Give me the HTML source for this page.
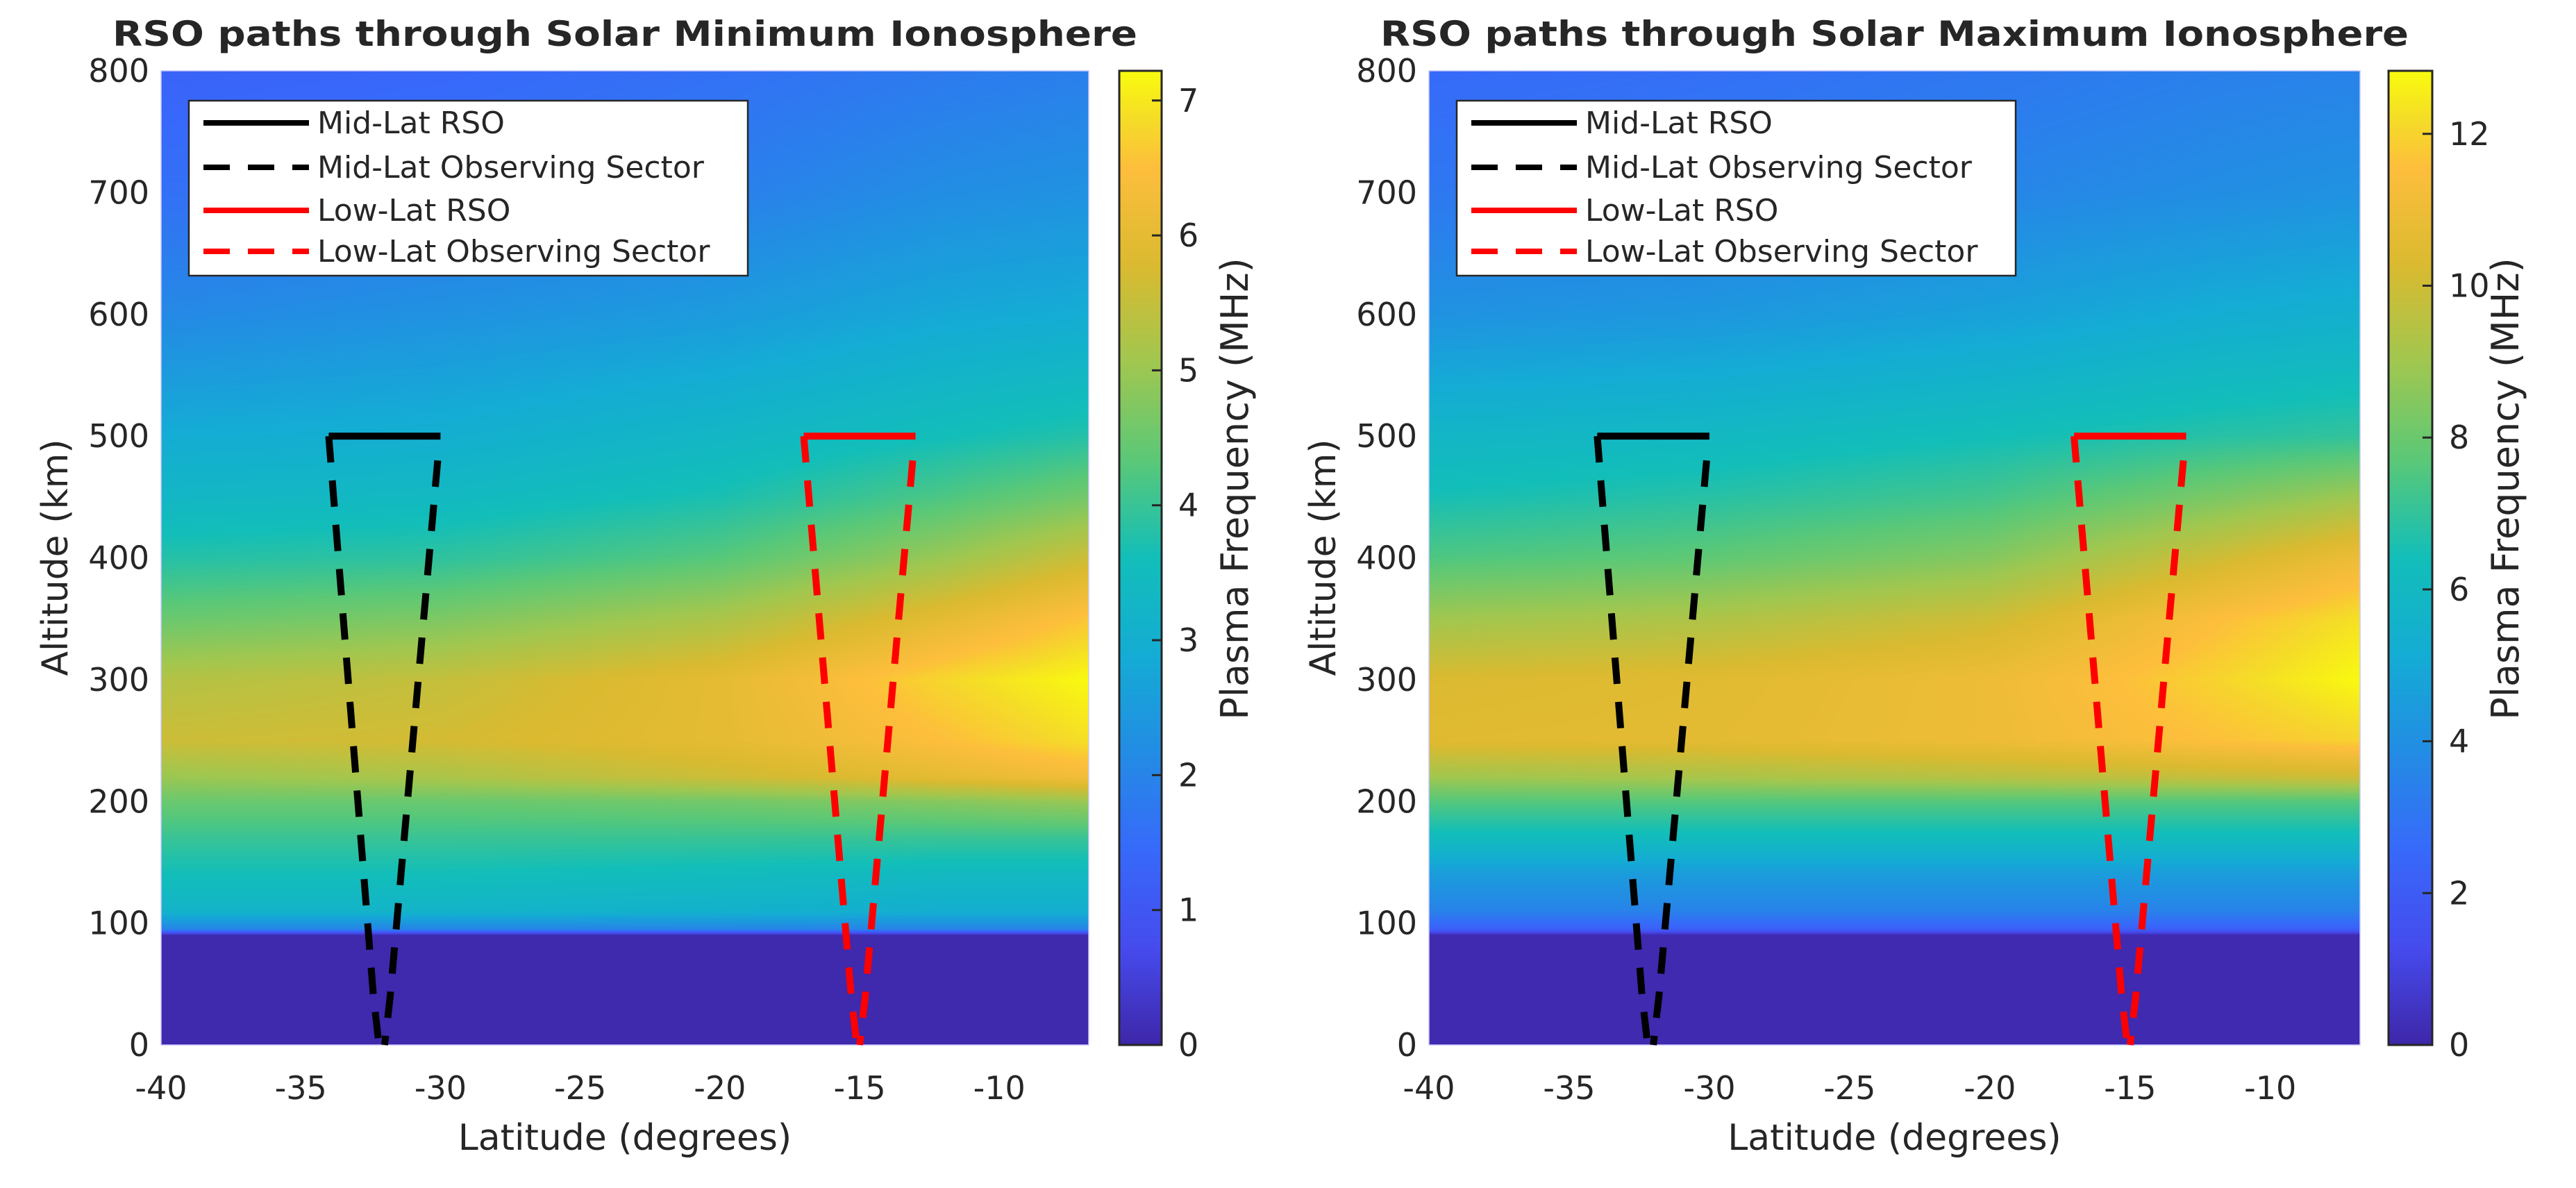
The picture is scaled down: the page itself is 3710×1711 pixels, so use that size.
<!DOCTYPE html>
<html><head><meta charset="utf-8">
<style>
html,body{margin:0;padding:0;background:#fff;}
#wrap{position:relative;width:3710px;height:1711px;overflow:hidden;}
canvas,svg{position:absolute;left:0;top:0;}
text{font-family:"DejaVu Sans","Liberation Sans",sans-serif;fill:#262626;}
</style></head>
<body>
<div id="wrap">
<canvas id="cv" width="3710" height="1711"></canvas>
<svg id="sv" width="3710" height="1711" xmlns="http://www.w3.org/2000/svg"></svg>
</div>
<script>
// ---- data ----
const lats = [-40, -30, -20, -12, -6.8];
const alts = [0, 90, 95, 110, 140, 170, 200, 220, 250, 300, 350, 400, 450, 500, 600, 700, 800];
const minVals = [
 [0.05,0.05,0.05,0.05,0.05],
 [0.05,0.05,0.05,0.05,0.05],
 [2.0,2.0,2.0,2.0,2.0],
 [3.2,3.2,3.1,3.0,3.0],
 [3.6,3.6,3.5,3.4,3.4],
 [4.0,4.0,4.0,4.0,4.0],
 [4.5,4.5,4.6,4.8,5.0],
 [5.0,5.2,5.6,6.0,6.3],
 [5.6,5.7,6.0,6.5,6.9],
 [5.3,5.5,6.0,6.8,7.2],
 [4.5,4.7,5.2,6.0,6.6],
 [3.8,3.9,4.3,5.0,5.6],
 [3.3,3.4,3.7,4.2,4.6],
 [2.9,3.0,3.3,3.6,3.8],
 [2.1,2.3,2.5,2.8,2.9],
 [1.6,1.7,1.9,2.2,2.3],
 [1.3,1.4,1.6,1.8,1.9]];
const maxVals = [
 [0.15,0.15,0.15,0.15,0.15],
 [0.15,0.15,0.15,0.15,0.15],
 [2.2,2.2,2.2,2.2,2.2],
 [3.5,3.5,3.5,3.5,3.5],
 [4.5,4.5,4.5,4.5,4.5],
 [6.2,6.2,6.2,6.2,6.2],
 [7.6,7.6,7.6,7.6,7.6],
 [9.0,9.2,9.5,9.8,10.0],
 [10.5,10.6,11.0,11.6,12.0],
 [10.3,10.5,11.0,12.0,12.8],
 [9.0,9.3,10.0,11.5,12.3],
 [7.5,7.8,8.5,10.0,11.0],
 [6.5,6.8,7.3,8.3,9.0],
 [5.8,6.0,6.4,6.8,7.0],
 [4.1,4.3,4.7,5.2,5.4],
 [3.1,3.3,3.6,3.9,4.1],
 [2.6,2.8,3.1,3.4,3.5]];
const xTicks = [-40,-35,-30,-25,-20,-15,-10];
const yTicks = [0,100,200,300,400,500,600,700,800];
const cbTicksMin = [0,1,2,3,4,5,6,7];
const cbTicksMax = [0,2,4,6,8,10,12];
const midRso = [[-34,500],[-30,500]];
const midDashL = [[-34,500],[-32.4,40],[-32.2,0]];
const midDashR = [[-30.1,480],[-31.8,40],[-32.0,0]];
const lowRso = [[-17,500],[-13,500]];
const lowDashL = [[-17,500],[-15.3,40],[-15.1,0]];
const lowDashR = [[-13.1,480],[-14.8,40],[-15.0,0]];
const legendLabels = ["Mid-Lat RSO","Mid-Lat Observing Sector","Low-Lat RSO","Low-Lat Observing Sector"];

const parula = [[0,62,38,168],[0.1,70,75,238],[0.2,55,105,250],[0.3,35,140,228],[0.4,20,172,212],[0.5,18,190,185],[0.6,90,200,120],[0.7,160,199,80],[0.8,218,186,48],[0.9,253,190,60],[0.95,245,220,40],[1,249,251,14]];
function cmap(t){t=Math.max(0,Math.min(1,t));for(let i=1;i<parula.length;i++){if(t<=parula[i][0]){const a=parula[i-1],b=parula[i];const f=(t-a[0])/(b[0]-a[0]);return [a[1]+(b[1]-a[1])*f,a[2]+(b[2]-a[2])*f,a[3]+(b[3]-a[3])*f];}}return parula[parula.length-1].slice(1);}
function seg(arr,v){for(let i=1;i<arr.length;i++){if(v<=arr[i])return [i-1,(v-arr[i-1])/(arr[i]-arr[i-1])];}return [arr.length-2,1];}
function sample(vals,lat,alt){const [i,fi]=seg(alts,alt);const [j,fj]=seg(lats,lat);
 const a=vals[i][j]*(1-fj)+vals[i][j+1]*fj, b=vals[i+1][j]*(1-fj)+vals[i+1][j+1]*fj;return a*(1-fi)+b*fi;}

const NS="http://www.w3.org/2000/svg";
const svg=document.getElementById('sv');
const ctx=document.getElementById('cv').getContext('2d');
function el(tag,attrs,parent,txt){const e=document.createElementNS(NS,tag);for(const k in attrs)e.setAttribute(k,attrs[k]);if(txt!==undefined)e.textContent=txt;(parent||svg).appendChild(e);return e;}

const panels=[
 {x0:232,x1:1568,cb0:1612,cb1:1673,vals:minVals,vmax:7.22,ticks:cbTicksMin,title:"RSO paths through Solar Minimum Ionosphere",id:"min"},
 {x0:2058,x1:3399,cb0:3440,cb1:3503,vals:maxVals,vmax:12.83,ticks:cbTicksMax,title:"RSO paths through Solar Maximum Ionosphere",id:"max"}];
const Y0=102,Y1=1505,LATMIN=-40,LATMAX=-6.8;

panels.forEach(p=>{
 const xs=v=>p.x0+(v-LATMIN)/(LATMAX-LATMIN)*(p.x1-p.x0);
 const ys=v=>Y1-(v/800)*(Y1-Y0);
 const W=p.x1-p.x0,H=Y1-Y0;const img=ctx.createImageData(W,H);
 for(let py=0;py<H;py++){const alt=800*(1-(py+0.5)/H);
  for(let px=0;px<W;px++){const lat=LATMIN+(px+0.5)/W*(LATMAX-LATMIN);
   const c=cmap(sample(p.vals,lat,alt)/p.vmax);const k=(py*W+px)*4;
   img.data[k]=c[0];img.data[k+1]=c[1];img.data[k+2]=c[2];img.data[k+3]=255;}}
 ctx.putImageData(img,p.x0,Y0);
 const cbH=Y1-Y0;const g=ctx.createImageData(p.cb1-p.cb0,cbH);
 for(let py=0;py<cbH;py++){const c=cmap(1-py/cbH);for(let px=0;px<p.cb1-p.cb0;px++){const k=(py*(p.cb1-p.cb0)+px)*4;g.data[k]=c[0];g.data[k+1]=c[1];g.data[k+2]=c[2];g.data[k+3]=255;}}
 ctx.putImageData(g,p.cb0,Y0);

 const grp=el('g',{});
 
 
 const t=el('text',{x:(p.x0+p.x1)/2,y:66,'text-anchor':'middle','font-size':50,'font-weight':'bold',fill:'#000',textLength:p.x1-p.x0+140,lengthAdjust:'spacingAndGlyphs'},grp,p.title);
 
 
 const fr=el('rect',{x:p.x0,y:Y0,width:p.x1-p.x0,height:Y1-Y0,fill:'none',stroke:'#c8c8ff','stroke-width':1.5},grp);
 
 
 yTicks.forEach(v=>{const tt=el('text',{x:p.x0-17,y:ys(v)+16,'text-anchor':'end','font-size':46},grp,String(v));
  
  });
 xTicks.forEach(v=>{const tt=el('text',{x:xs(v),y:1583,'text-anchor':'middle','font-size':46},grp,String(v));
  
  });
 const xl=el('text',{x:(p.x0+p.x1)/2,y:1656,'text-anchor':'middle','font-size':52},grp,'Latitude (degrees)');
 
 
 const yl=el('text',{x:0,y:0,'text-anchor':'middle','font-size':52,transform:`translate(${p.x0-135},803) rotate(-90)`},grp,'Altitude (km)');
 
 
 const cf=el('rect',{x:p.cb0,y:Y0,width:p.cb1-p.cb0,height:Y1-Y0,fill:'none',stroke:'#262626','stroke-width':3},grp);
 
 
 p.ticks.forEach(v=>{const yy=Y1-v/p.vmax*(Y1-Y0);
  el('line',{x1:p.cb1-14,x2:p.cb1,y1:yy,y2:yy,stroke:'#262626','stroke-width':3},grp);
  const tt=el('text',{x:p.cb1+24,y:yy+16,'font-size':46},grp,String(v));
  
  });
 const cl=el('text',{x:0,y:0,'text-anchor':'middle','font-size':54,transform:`translate(${p.cb1+124},704) rotate(-90)`},grp,'Plasma Frequency (MHz)');
 
 
 const pts=a=>a.map(q=>xs(q[0])+','+ys(q[1])).join(' ');
 [[midRso,'#000',null,'mid-lat-rso'],[midDashL,'#000','38 26','mid-lat-sector-left'],[midDashR,'#000','38 26','mid-lat-sector-right'],
  [lowRso,'#ff0000',null,'low-lat-rso'],[lowDashL,'#ff0000','38 26','low-lat-sector-left'],[lowDashR,'#ff0000','38 26','low-lat-sector-right']].forEach(s=>{
  const a={points:pts(s[0]),fill:'none',stroke:s[1],'stroke-width':10};if(s[2])a['stroke-dasharray']=s[2];
  const pl=el('polyline',a,grp);
  
  });
 const lx=p.x0+40;
 const lg=el('g',{},grp);
 
 
 el('rect',{x:lx,y:145,width:805,height:252,fill:'#fff',stroke:'#262626','stroke-width':2.5},lg);
 const cols=['#000','#000','#ff0000','#ff0000'],dash=[null,'38 26',null,'38 26'],rowsY=[177,241,303,362];
 legendLabels.forEach((lab,i)=>{
  const a={x1:lx+21,x2:lx+173,y1:rowsY[i],y2:rowsY[i],stroke:cols[i],'stroke-width':8};if(dash[i])a['stroke-dasharray']=dash[i];
  el('line',a,lg);
  const tt=el('text',{x:lx+185,y:rowsY[i]+15,'font-size':44},lg,lab);
  
  });
});
</script>
</body></html>
